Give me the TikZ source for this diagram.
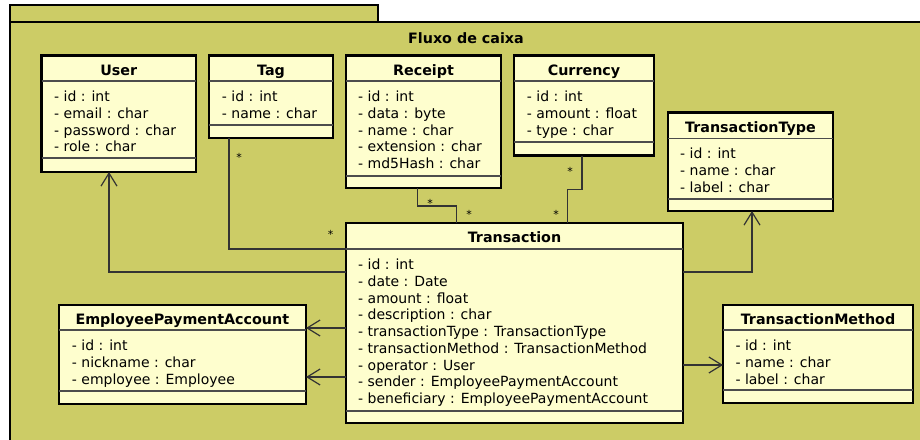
\documentclass[tikz,border=0pt]{standalone}
\usepackage{fontspec}
\setmainfont{DejaVu Sans}
\usetikzlibrary{arrows.meta}
\definecolor{pkg}{HTML}{CCCC66}
\definecolor{clsfill}{HTML}{FEFECE}
\definecolor{ln}{HTML}{333333}
\tikzset{
  classbox/.style={draw=black, line width=2.2pt, fill=clsfill, anchor=north west, inner sep=0pt, outer sep=0pt},
  sepline/.style={draw=black!70, line width=1.1pt},
  ctitle/.style={font=\fontsize{14.3}{16}\selectfont\bfseries, anchor=base, inner sep=0pt},
  attr/.style={font=\fontsize{14}{16}\selectfont, anchor=base west, inner sep=0pt},
  conn/.style={draw=ln, line width=1.2pt},
  arr/.style={conn, -{Straight Barb[length=13pt,width=16pt,line width=1.2pt]}},
  mult/.style={font=\fontsize{11}{12}\selectfont, anchor=base, inner sep=0pt},
  pkgframe/.style={draw=black, line width=2.5pt, fill=pkg},
}
\newcommand\attrlist[4]{%
  \foreach \t [count=\i] in {#4} \node[attr] (#1-a\i) at (#2,{#3+16.75*(\i-1)}) {\t};}
\begin{document}
\begin{tikzpicture}[x=1pt,y=-1pt]
\useasboundingbox (0,0) rectangle (920,439);
\fill[white] (0,0) rectangle (920,439);
\clip (0,0) rectangle (920,439);
% package
\draw[pkgframe] (10,5) rectangle (378,22);
\draw[pkgframe] (10,22) rectangle (940,460);
\node[ctitle] (pkgtitle) at (466,43.7) {Fluxo de caixa};

% User
\node[classbox, minimum width=154.5pt, minimum height=116.5pt] (user) at (41.5,55.5) {};
\draw[sepline] (user.west |- 0,81) -- (user.east |- 0,81);
\draw[sepline] (user.west |- 0,158) -- (user.east |- 0,158);
\node[ctitle] (user-t) at (user.north |- 0,75) {User};
\attrlist{user}{54}{101.5}{- id : int,- email : char,- password : char,- role : char}

% Tag
\node[classbox, minimum width=124pt, minimum height=82.5pt] (tag) at (209,55.5) {};
\draw[sepline] (tag.west |- 0,81) -- (tag.east |- 0,81);
\draw[sepline] (tag.west |- 0,125) -- (tag.east |- 0,125);
\node[ctitle] (tag-t) at (tag.north |- 0,75) {Tag};
\attrlist{tag}{221.7}{101.5}{- id : int,- name : char}

% Receipt
\node[classbox, minimum width=155pt, minimum height=132.5pt] (receipt) at (346,55.5) {};
\draw[sepline] (receipt.west |- 0,81) -- (receipt.east |- 0,81);
\draw[sepline] (receipt.west |- 0,176) -- (receipt.east |- 0,176);
\node[ctitle] (receipt-t) at (receipt.north |- 0,75) {Receipt};
\attrlist{receipt}{358}{101.5}{- id : int,- data : byte,- name : char,- extension : char,- md5Hash : char}

% Currency
\node[classbox, minimum width=140pt, minimum height=100pt] (currency) at (514,55.5) {};
\draw[sepline] (currency.west |- 0,81) -- (currency.east |- 0,81);
\draw[sepline] (currency.west |- 0,142) -- (currency.east |- 0,142);
\node[ctitle] (currency-t) at (currency.north |- 0,75) {Currency};
\attrlist{currency}{526.7}{101.5}{- id : int,- amount : float,- type : char}

% TransactionType
\node[classbox, minimum width=165pt, minimum height=98.5pt] (ttype) at (668,112.5) {};
\draw[sepline] (ttype.west |- 0,138.5) -- (ttype.east |- 0,138.5);
\draw[sepline] (ttype.west |- 0,199) -- (ttype.east |- 0,199);
\node[ctitle] (ttype-t) at (ttype.north |- 0,132.5) {TransactionType};
\attrlist{ttype}{680}{158.5}{- id : int,- name : char,- label : char}

% Transaction
\node[classbox, minimum width=337pt, minimum height=200pt] (trans) at (346,223) {};
\draw[sepline] (trans.west |- 0,249) -- (trans.east |- 0,249);
\draw[sepline] (trans.west |- 0,411) -- (trans.east |- 0,411);
\node[ctitle] (trans-t) at (trans.north |- 0,242) {Transaction};
\attrlist{trans}{358}{269.5}{- id : int,- date : Date,- amount : float,- description : char,- transactionType : TransactionType,- transactionMethod : TransactionMethod,- operator : User,- sender : EmployeePaymentAccount,- beneficiary : EmployeePaymentAccount}

% EmployeePaymentAccount
\node[classbox, minimum width=247.3pt, minimum height=99pt] (epa) at (58.7,305) {};
\draw[sepline] (epa.west |- 0,330) -- (epa.east |- 0,330);
\draw[sepline] (epa.west |- 0,391) -- (epa.east |- 0,391);
\node[ctitle] (epa-t) at (epa.north |- 0,324.5) {EmployeePaymentAccount};
\attrlist{epa}{71.7}{350.5}{- id : int,- nickname : char,- employee : Employee}

% TransactionMethod
\node[classbox, minimum width=190pt, minimum height=98pt] (tmethod) at (723,305) {};
\draw[sepline] (tmethod.west |- 0,330) -- (tmethod.east |- 0,330);
\draw[sepline] (tmethod.west |- 0,390) -- (tmethod.east |- 0,390);
\node[ctitle] (tmethod-t) at (tmethod.north |- 0,324.5) {TransactionMethod};
\attrlist{tmethod}{735.3}{350.5}{- id : int,- name : char,- label : char}

% connectors
\draw[arr] (trans.west |- 0,272) -| (user.south -| 109,0);
\draw[conn] (tag.south -| 229,0) |- (trans.west |- 0,249);
\draw[conn] (receipt.south -| 417.5,0) |- (456.3,206) -- (trans.north -| 456.3,0);
\draw[conn] (currency.south -| 582,0) |- (567.7,189.3) -- (trans.north -| 567.7,0);
\draw[arr] (trans.east |- 0,272) -| (ttype.south -| 752,0);
\draw[arr] (trans.west |- 0,328) -- (epa.east |- 0,328);
\draw[arr] (trans.west |- 0,377) -- (epa.east |- 0,377);
\draw[arr] (trans.east |- 0,365) -- (tmethod.west |- 0,365);

% multiplicities
\node[mult] (m1) at (239,161.5) {*};
\node[mult] (m2) at (330.7,238.2) {*};
\node[mult] (m3) at (430,207.2) {*};
\node[mult] (m4) at (469,218.2) {*};
\node[mult] (m5) at (570,175.5) {*};
\node[mult] (m6) at (556,218.2) {*};
\end{tikzpicture}
\end{document}
